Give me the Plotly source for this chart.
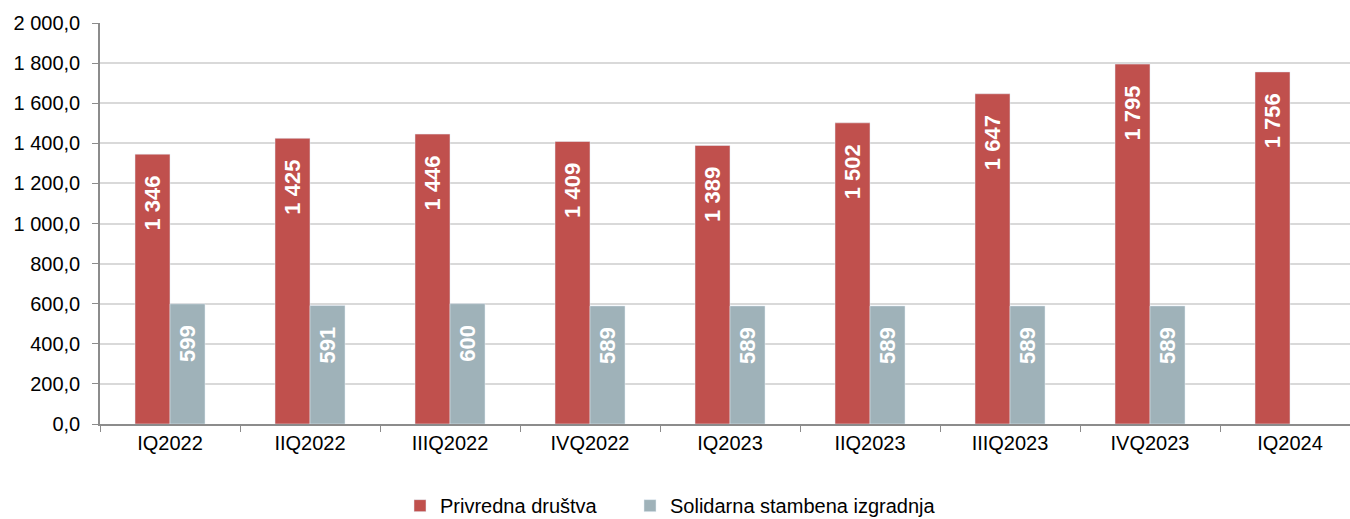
import plotly.graph_objects as go

categories = ["IQ2022", "IIQ2022", "IIIQ2022", "IVQ2022", "IQ2023", "IIQ2023", "IIIQ2023", "IVQ2023", "IQ2024"]
privredna = [1346, 1425, 1446, 1409, 1389, 1502, 1647, 1795, 1756]
solidarna = [599, 591, 600, 589, 589, 589, 589, 589, None]
labels_priv = ["1 346", "1 425", "1 446", "1 409", "1 389", "1 502", "1 647", "1 795", "1 756"]
labels_sol = ["599", "591", "600", "589", "589", "589", "589", "589", ""]

pad = "\u00a0\u00a0\u00a0"
bar_font = dict(color="white", size=22, family="Liberation Sans", weight="bold")

fig = go.Figure()
fig.add_trace(go.Bar(
    x=categories, y=privredna, name="Privredna društva",
    marker=dict(color="#C0504D"),
    text=[t + pad for t in labels_priv], textposition="inside", insidetextanchor="end", textangle=-90,
    textfont=bar_font, legend="legend",
))
fig.add_trace(go.Bar(
    x=categories, y=solidarna, name="Solidarna stambena izgradnja",
    marker=dict(color="#9FB2B9"),
    text=[(t + pad) if t else "" for t in labels_sol], textposition="inside", insidetextanchor="end", textangle=-90,
    textfont=bar_font, legend="legend2",
))

legend_common = dict(orientation="h", y=-0.155, yanchor="top", xanchor="left",
                     font=dict(size=20), bgcolor="rgba(0,0,0,0)")

fig.update_layout(
    width=1350, height=519,
    margin=dict(l=100, r=0, t=23, b=95, autoexpand=False),
    plot_bgcolor="white", paper_bgcolor="white",
    barmode="group", bargap=0.5, bargroupgap=0,
    separators=", ",
    font=dict(family="Liberation Sans", size=18, color="black"),
    showlegend=True,
    legend=dict(x=0.24, **legend_common),
    legend2=dict(x=0.424, **legend_common),
    uniformtext=dict(minsize=10, mode="show"),
)
fig.update_yaxes(
    range=[0, 2000], dtick=200, tickformat=",.1f", automargin=False,
    showgrid=True, gridcolor="#D9D9D9", gridwidth=1.5,
    showline=True, linecolor="#8C8C8C", linewidth=1.5,
    ticks="outside", ticklen=6, tickcolor="#8C8C8C", ticklabelstandoff=8,
    zeroline=False, tickfont=dict(size=20),
)
fig.update_xaxes(
    range=[-0.5, 8.5 - 10/140], automargin=False,
    showline=True, linecolor="#8C8C8C", linewidth=1.5,
    ticks="outside", tickson="boundaries", ticklen=6, tickcolor="#8C8C8C",
    tickfont=dict(size=20),
)

fig.write_html("out.html", config={"displayModeBar": False},
               post_script="document.body.style.margin='0px';")
